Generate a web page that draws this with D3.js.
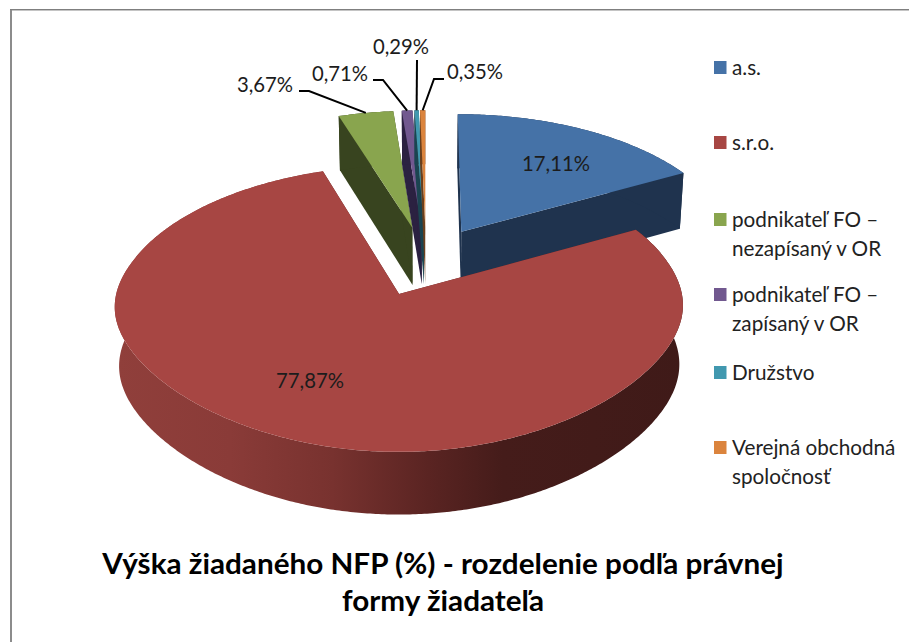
<!DOCTYPE html>
<html>
<head>
<meta charset="utf-8">
<script src="https://cdn.jsdelivr.net/npm/d3@7"></script>
<style>
  html, body { margin: 0; padding: 0; background: #fff; }
  svg { display: block; }
  text { font-family: Lato, "Open Sans", sans-serif; }
</style>
</head>
<body>
<script>
// values
const categories = ["a.s.", "s.r.o.", "podnikateľ FO – nezapísaný v OR", "podnikateľ FO – zapísaný v OR", "Družstvo", "Verejná obchodná spoločnosť"];
const values = [17.11, 77.87, 3.67, 0.71, 0.29, 0.35];
const legendLines = [["a.s."], ["s.r.o."], ["podnikateľ FO –", "nezapísaný v OR"], ["podnikateľ FO –", "zapísaný v OR"], ["Družstvo"], ["Verejná obchodná", "spoločnosť"]];
const topColors = ["#4572a7", "#a74643", "#89a54e", "#71588f", "#4198af", "#db843d"];
const sideColors = ["#1f334e", "#5a2422", "#38441f", "#2b2141", "#1b4450", "#6a3f1c"];
const titleLines = ["Výška žiadaného NFP (%) - rozdelenie podľa právnej", "formy žiadateľa"];

const width = 909, height = 642;
const svg = d3.select("body").append("svg").attr("width", width).attr("height", height);

// frame, only the left and top edges show in the crop
svg.append("rect").attr("x", 10).attr("y", 9).attr("width", 2).attr("height", height - 9).attr("fill", "#8c8c8c");
svg.append("rect").attr("x", 10).attr("y", 9).attr("width", width - 10).attr("height", 1).attr("fill", "#7f7f7f");
svg.append("rect").attr("x", 12).attr("y", 10).attr("width", width - 12).attr("height", 1).attr("fill", "#c4c4c4");

// pie geometry: unit disc, X right, Y to the back, Z up
const explode = 0.257;
const xScale = d3.scaleLinear().domain([-1, 1]).range([426 - 275, 426 + 275]);
const yScale = d3.scaleLinear().domain([-1, 1]).range([261 + 135, 261 - 135]);

function project(X, Y, down) {
  // x perspective levels off softly in front, the rim is not as wide there as true perspective says
  const u = -0.4 + 0.12 * Math.log(1 + Math.exp((Y + 0.4) / 0.12));
  const sx = (u >= 0 ? 1 / (1 + 0.115 * u) : 1 - 0.135 * u) * (down ? 0.986 : 1);
  const sy = 1 / (1 + 0.1 * Y);
  const drop = down ? 58 / (1 + 0.06 * Y) : 0;
  return [xScale(X * sx), yScale(Y * sy) + drop];
}

const arcs = d3.pie().sort(null).value(d => d)(values);
const line = d3.line();

arcs.forEach(a => {
  const mid = (a.startAngle + a.endAngle) / 2;
  a.cx = explode * Math.sin(mid);
  a.cy = explode * Math.cos(mid);
  a.rim = function (angle) { return [a.cx + Math.sin(angle), a.cy + Math.cos(angle)]; };
});

function rimPoints(a, from, to, down) {
  const n = Math.max(2, Math.ceil((to - from) / 0.01));
  return d3.range(n + 1).map(i => {
    const p = a.rim(from + (to - from) * i / n);
    return project(p[0], p[1], down);
  });
}

function face(a, angle) {
  const p = a.rim(angle);
  return [project(a.cx, a.cy, false), project(p[0], p[1], false), project(p[0], p[1], true), project(a.cx, a.cy, true)];
}

// gradient along the red front wall
const defs = svg.append("defs");
const grad = defs.append("linearGradient").attr("id", "redWall")
  .attr("gradientUnits", "userSpaceOnUse").attr("x1", 117).attr("x2", 684).attr("y1", 0).attr("y2", 0);
[[0, "#903f3b"], [0.2, "#8a3b38"], [0.38, "#78322f"], [0.55, "#5a2422"], [0.68, "#451c1a"], [1, "#3f1a18"]]
  .forEach(s => grad.append("stop").attr("offset", s[0]).attr("stop-color", s[1]));

// painter's order: back slices first, the big red one last
const order = [0, 2, 3, 4, 5, 1];
const pie = svg.append("g");

order.forEach(i => {
  const a = arcs[i];
  pie.append("path").attr("d", line(face(a, a.startAngle)) + "Z").attr("fill", sideColors[i]);
  pie.append("path").attr("d", line(face(a, a.endAngle)) + "Z").attr("fill", sideColors[i]);
  const wall = rimPoints(a, a.startAngle, a.endAngle, false)
    .concat(rimPoints(a, a.startAngle, a.endAngle, true).reverse());
  pie.append("path").attr("d", line(wall) + "Z")
    .attr("fill", i === 1 ? "url(#redWall)" : sideColors[i]);
  const top = [project(a.cx, a.cy, false)].concat(rimPoints(a, a.startAngle, a.endAngle, false));
  pie.append("path").attr("d", line(top) + "Z").attr("fill", topColors[i]);
});

// data labels
const fmt = v => v.toFixed(2).replace(".", ",") + "%";
const labelPos = [[556, 171], [310, 388], [265, 92], [340, 81], [401, 54], [475, 79]];
const elbows = [null, null, [[299, 91], [309, 91]], [[373, 80], [383, 80]], [[417, 60]], [[444, 79], [434, 79]]];

arcs.forEach((a, i) => {
  svg.append("text").attr("x", labelPos[i][0]).attr("y", labelPos[i][1])
    .attr("text-anchor", "middle").attr("font-size", 20.3).attr("fill", "#1c1c1c")
    .text(fmt(values[i]));
  if (elbows[i]) {
    const p = a.rim((a.startAngle + a.endAngle) / 2);
    const end = project(p[0], p[1], false);
    svg.append("path").attr("d", line(elbows[i].concat([end])))
      .attr("fill", "none").attr("stroke", "#000").attr("stroke-width", 2);
  }
});

// legend
const legendY = [61, 136, 213, 288, 366, 441];
categories.forEach((c, i) => {
  svg.append("rect").attr("x", 714).attr("y", legendY[i]).attr("width", 12.5).attr("height", 13).attr("fill", topColors[i]);
  legendLines[i].forEach((t, j) => {
    svg.append("text").attr("x", 732).attr("y", legendY[i] + 14 + j * 28.5)
      .attr("font-size", 20.7).attr("fill", "#222").text(t);
  });
});

// title, stretched a bit to the original's wider setting
titleLines.forEach((t, i) => {
  svg.append("text").attr("transform", "translate(443," + (574 + i * 37) + ") scale(1.06,1)")
    .attr("text-anchor", "middle").attr("font-size", 28).attr("font-weight", 700)
    .attr("fill", "#000").text(t);
});
</script>
</body>
</html>
